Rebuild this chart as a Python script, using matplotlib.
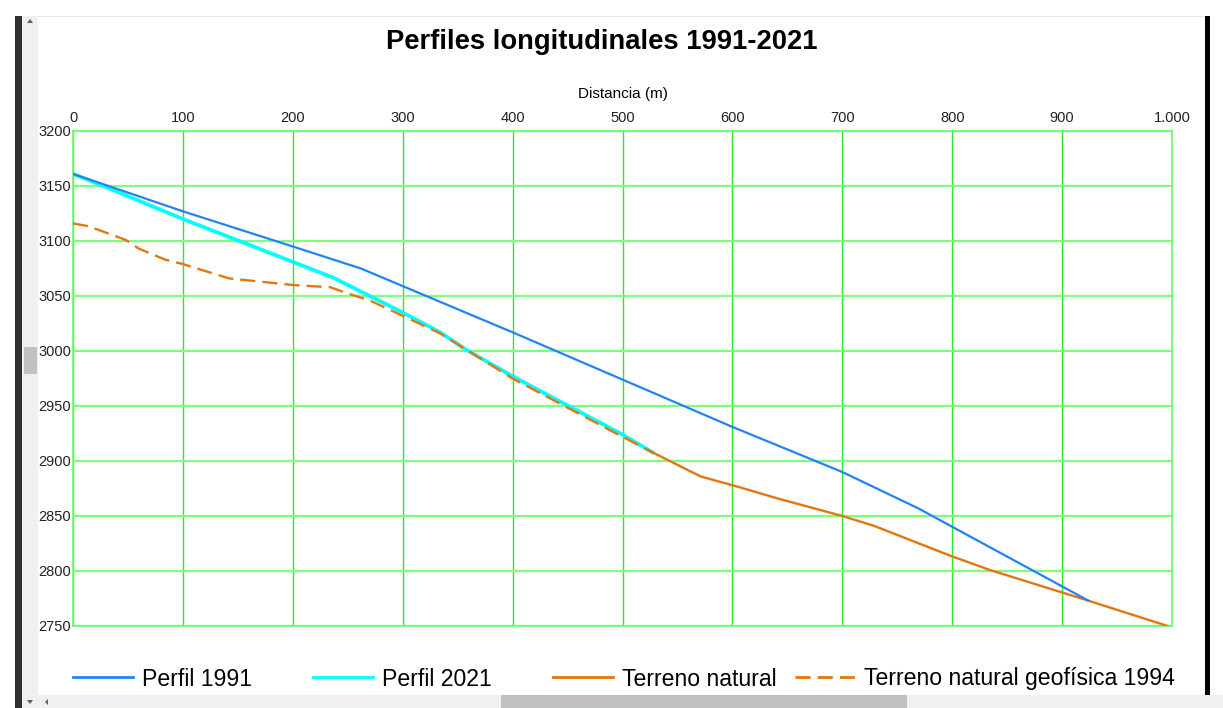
import matplotlib.pyplot as plt
from matplotlib.lines import Line2D
from matplotlib.patches import Rectangle, Polygon
from matplotlib.ticker import FuncFormatter, MultipleLocator

plt.rcParams['font.family'] = ['Liberation Sans', 'DejaVu Sans']

# Perfil 1991
dist_1991 = [0, 100, 200, 262, 300, 400, 500, 600, 700, 769, 924]
cota_1991 = [3161, 3127, 3095, 3075, 3059, 3017, 2974, 2931, 2890, 2857, 2773]

# Perfil 2021
dist_2021 = [0, 30, 100, 200, 236, 270, 300, 334, 358, 400, 449, 500, 527]
cota_2021 = [3161, 3149, 3120, 3081, 3067, 3050, 3035, 3017, 3001, 2977, 2951, 2924, 2908]

# Terreno natural
dist_tn = [527, 571, 607, 641, 700, 729, 798, 834, 924, 996]
cota_tn = [2908, 2886, 2876, 2866, 2850, 2841, 2814, 2801, 2773, 2750]

# Terreno natural geofisica 1994
dist_1994 = [0, 14, 48, 60, 84, 100, 142, 200, 234, 251, 270, 300, 334, 400, 449, 500, 527]
cota_1994 = [3116, 3113.5, 3101, 3093, 3083, 3079, 3066, 3060, 3058, 3052, 3046, 3032,
             3016, 2975, 2949, 2922, 2908]

W, H = 1223, 708
fig = plt.figure(figsize=(W / 100, H / 100), dpi=100)
ax = fig.add_axes([73 / W, 1 - 626 / H, (1172 - 73) / W, (626 - 131) / H])

c_blue = '#2183f5'
c_cyan = '#00ffff'
c_orange = '#e3760f'

ax.plot(dist_2021, cota_2021, color=c_cyan, lw=2.7, zorder=3)
ax.plot(dist_tn, cota_tn, color=c_orange, lw=1.7, zorder=4)
ax.plot(dist_1994, cota_1994, color=c_orange, lw=1.7, ls=(0, (6.4, 3.0)), zorder=5)
ax.plot(dist_1991, cota_1991, color=c_blue, lw=1.6, zorder=6)

ax.set_xlim(0, 1000)
ax.set_ylim(2750, 3200)
ax.xaxis.set_major_locator(MultipleLocator(100))
ax.yaxis.set_major_locator(MultipleLocator(50))
ax.xaxis.set_major_formatter(FuncFormatter(lambda v, p: f'{int(v):,}'.replace(',', '.')))
ax.xaxis.tick_top()
ax.xaxis.set_label_position('top')
ax.tick_params(axis='both', length=0, labelsize=10.5, colors='#222222')
ax.tick_params(axis='x', pad=4)
ax.tick_params(axis='y', pad=1.5)
ax.set_xlabel('Distancia (m)', fontsize=11, labelpad=10)

ax.yaxis.grid(True, color='#7dff7d', lw=1.6)
ax.xaxis.grid(True, color='#2ee82e', lw=1.0)
ax.set_axisbelow(True)
for s in ax.spines.values():
    s.set_color('#66ff66')
    s.set_linewidth(1.2)

fig.text(602 / W, 1 - 42 / H, 'Perfiles longitudinales 1991-2021', ha='center', va='center',
         fontsize=19.7, fontweight='bold')

# legend entries laid out along the bottom
legend_items = [
    ('Perfil 1991', c_blue, '-', 73),
    ('Perfil 2021', c_cyan, '-', 313),
    ('Terreno natural', c_orange, '-', 553),
    ('Terreno natural geofísica 1994', c_orange, (0, (5.4, 2.6)), 795),
]
for label, color, ls, x0 in legend_items:
    h = Line2D([], [], color=color, lw=2, ls=ls)
    fig.legend([h], [label], loc='center left', bbox_to_anchor=(x0 / W, 1 - 679 / H),
               frameon=False, fontsize=16.6, handlelength=2.6, handletextpad=0.4,
               borderpad=0, borderaxespad=0)

# window frame around the chart
def px_rect(x, y, w, h, color):
    fig.add_artist(Rectangle((x / W, 1 - (y + h) / H), w / W, h / H, transform=fig.transFigure,
                             color=color, lw=0, zorder=10))

px_rect(22, 15.5, 1183, 1, '#e8e8e8')
px_rect(15, 16, 7, 692, '#2e3032')
px_rect(22, 16, 16, 679, '#f0f0f0')
px_rect(24, 347, 13, 27, '#c1c1c1')
px_rect(22, 695, 1201, 13, '#f0f0f0')
px_rect(501, 695, 406, 13, '#c1c1c1')
px_rect(1205, 16, 5, 679, '#000000')

def px_tri(pts):
    fig.add_artist(Polygon([(x / W, 1 - y / H) for x, y in pts], closed=True,
                           transform=fig.transFigure, color='#606060', lw=0, zorder=11))

px_tri([(27, 23), (33, 23), (30, 19)])
px_tri([(27, 700), (33, 700), (30, 704)])
px_tri([(48, 699), (48, 705), (45, 702)])

fig.savefig('out.png', dpi=100)
